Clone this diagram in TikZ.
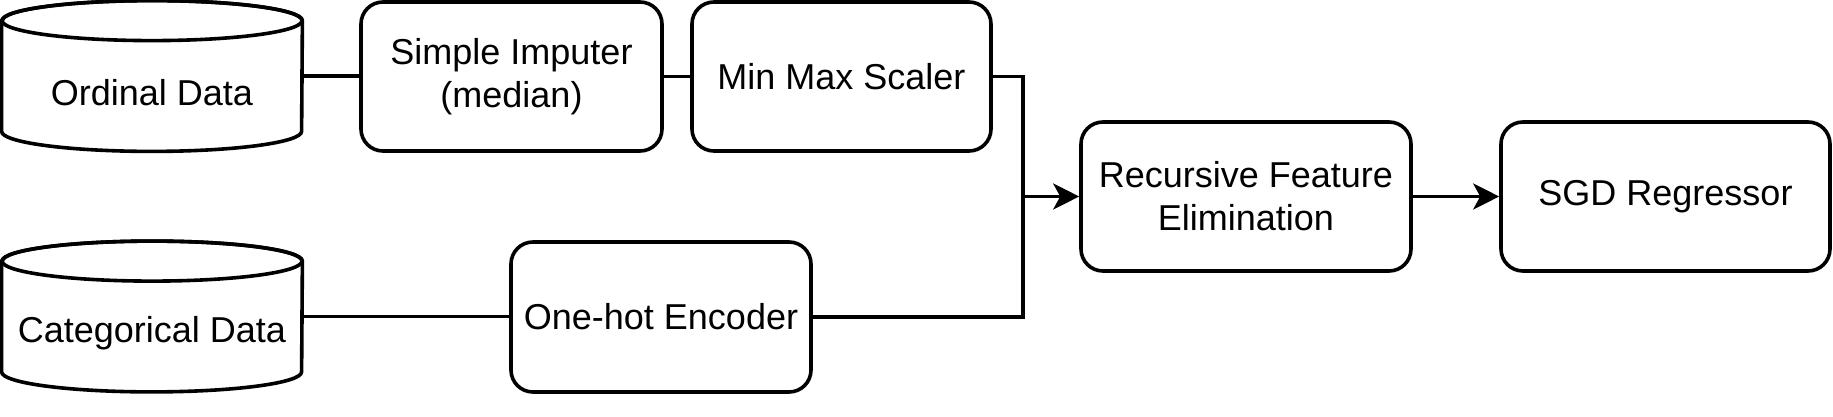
\documentclass[tikz,border=0pt]{standalone}
\usepackage{fontspec}
\setmainfont{Liberation Sans}
\usetikzlibrary{arrows.meta,calc}
\begin{document}
\begin{tikzpicture}[x=0.5pt,y=-0.5pt,
 txt/.style={font=\fontsize{18}{21.6}\selectfont},
 box/.style={txt, draw, line width=1.8pt, rounded corners=11pt, minimum height=74.5pt, align=center, inner sep=0pt},
 dbarea/.style={minimum width=150pt, minimum height=75pt, inner sep=0pt},
 conn/.style={line width=1.8pt},
 arr/.style={conn, -{Stealth[length=13pt,width=13pt,inset=3.5pt]}}
]
\useasboundingbox (0,0) rectangle (1833,417);

% data stores
\node[dbarea, label={[txt,yshift=-8.5pt]center:Ordinal Data}] (ord) at (152,76) {};
\node[dbarea, label={[txt,yshift=-8.5pt]center:Categorical Data}] (cat) at (152,316.5) {};
\foreach \n in {ord,cat}{
  \draw[conn] ($(\n.north west)+(0,20)$) -- ($(\n.south west)+(0,-20)$)
    arc[start angle=180,end angle=360,x radius=75pt,y radius=10pt]
    -- ($(\n.north east)+(0,20)$)
    arc[start angle=0,end angle=180,x radius=75pt,y radius=10pt] -- cycle;
  \draw[conn] ($(\n.north)+(0,20)$) ellipse[x radius=75pt,y radius=10pt];
}

% processing boxes
\node[box, minimum width=150.5pt] (imp) at (511.5,76.5) {Simple Imputer\\(median)};
\node[box, minimum width=149.5pt] (mms) at (841.5,76.5) {Min Max Scaler};
\node[box, minimum width=150pt, minimum height=75pt] (ohe) at (661,317) {One-hot Encoder};
\node[box, minimum width=165pt] (rfe) at (1246,196.5) {Recursive Feature\\Elimination};
\node[box, minimum width=164.5pt] (sgd) at (1665.5,196.5) {SGD Regressor};

% connectors
\coordinate (j) at (1023,196.5);
\draw[conn] (ord.east) -- (ord.east -| imp.west);
\draw[conn] (imp.east) -- (mms.west);
\draw[conn] (cat.east) -- (cat.east -| ohe.west);
\draw[conn] (mms.east) -| (j);
\draw[conn] (ohe.east) -| (j);
\draw[arr] (j) -- (rfe.west);
\draw[arr] (rfe.east) -- (sgd.west);
\end{tikzpicture}
\end{document}
